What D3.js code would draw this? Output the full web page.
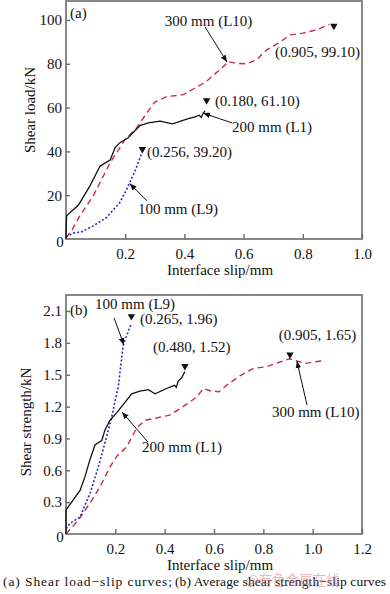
<!DOCTYPE html>
<html><head><meta charset="utf-8">
<script src="https://cdn.jsdelivr.net/npm/d3@7"></script>
<style>
html,body{margin:0;padding:0;background:#fff;}
svg{display:block;font-family:"Times New Roman","Liberation Serif",Tinos,Times,serif;}
</style></head>
<body><svg id="c" width="390" height="594"></svg>
<script>
// ---------- DATA ----------
// Panel (a): shear load (kN) vs interface slip (mm)
const aL1x = [0,0.002,0.042,0.08,0.115,0.149,0.166,0.182,0.21,0.25,0.278,0.318,0.36,0.413,0.436,0.45,0.457,0.464,0.47];
const aL1y = [0,10.6,15.5,24,33.3,36,41.7,44,46.2,51.8,53,53.8,52.6,55,55.8,56.5,55.5,57.6,58.5];
const aL10x = [0,0.02,0.047,0.092,0.149,0.2,0.239,0.273,0.3,0.34,0.396,0.43,0.47,0.5,0.53,0.548,0.575,0.61,0.644,0.678,0.717,0.757,0.8,0.847,0.89];
const aL10y = [0.5,4,10.6,19.7,34.8,45.5,50.8,57.6,62.5,65,65.9,68.5,71.5,75,78.5,81,80.2,80,81.8,86.4,89.4,93.2,94,95.5,98];
const aL9x = [0,0.025,0.053,0.092,0.137,0.182,0.205,0.233,0.256];
const aL9y = [1,2.7,3.3,6,9.8,16.7,22.7,31,39.2];
const aMarkX = [0.258,0.475,0.905];
const aMarkY = [41,63.3,97.3];
const aTicksX = [0.2,0.4,0.6,0.8,1.0];
const aTicksY = [20,40,60,80,100];

// Panel (b): average shear strength vs interface slip (mm)
const bL1x = [0,0,0.023,0.057,0.077,0.097,0.118,0.145,0.158,0.178,0.205,0.239,0.266,0.3,0.334,0.361,0.408,0.44,0.447,0.455,0.469,0.482];
const bL1y = [0,0.226,0.30,0.41,0.54,0.70,0.84,0.88,0.98,1.07,1.14,1.24,1.32,1.345,1.36,1.32,1.37,1.40,1.38,1.44,1.47,1.53];
const bL10x = [0,0.05,0.097,0.138,0.178,0.205,0.246,0.287,0.32,0.381,0.42,0.462,0.503,0.53,0.557,0.59,0.62,0.651,0.705,0.76,0.813,0.868,0.905,0.935,0.969,1.003,1.04];
const bL10y = [0,0.13,0.29,0.445,0.63,0.73,0.82,1.0,1.07,1.10,1.12,1.18,1.245,1.29,1.37,1.345,1.34,1.40,1.49,1.56,1.575,1.62,1.65,1.63,1.606,1.62,1.63];
const bL9x = [0,0.016,0.057,0.097,0.131,0.165,0.185,0.212,0.232,0.264];
const bL9y = [0.05,0.10,0.16,0.38,0.63,0.92,1.10,1.39,1.78,1.98];
const bMarkX = [0.265,0.482,0.908];
const bMarkY = [2.05,1.58,1.69];
const bTicksX = [0.2,0.4,0.6,0.8,1.0,1.2];
const bTicksY = [0.3,0.6,0.9,1.2,1.5,1.8,2.1];

const aLabels = ["(0.256, 39.20)","(0.180, 61.10)","(0.905, 99.10)","100 mm (L9)","200 mm (L1)","300 mm (L10)"];
const bLabels = ["(0.265, 1.96)","(0.480, 1.52)","(0.905, 1.65)","100 mm (L9)","200 mm (L1)","300 mm (L10)"];

// ---------- DRAW ----------
const svg = d3.select("#c");
const FS = 15;
const SERIF = '"Times New Roman","Liberation Serif",Tinos,Times,serif';
const frameColor = "#6b6b6b";
const cL1 = "#111", cL10 = "#cc2a45", cL9 = "#2a2ac8";

svg.append("defs").append("marker")
  .attr("id","ah").attr("viewBox","0 0 10 10").attr("refX",10).attr("refY",5)
  .attr("markerWidth",7).attr("markerHeight",7).attr("orient","auto-start-reverse")
  .attr("markerUnits","userSpaceOnUse")
  .append("path").attr("d","M0,1 L10,5 L0,9 Z").attr("fill","#111");

function panel(cfg){
  const g = svg.append("g");
  const x = d3.scaleLinear().domain(cfg.xd).range([66,362]);
  const y = d3.scaleLinear().domain(cfg.yd).range(cfg.yr);
  g.append("rect").attr("x",66).attr("y",cfg.top).attr("width",296).attr("height",cfg.bottom-cfg.top)
    .attr("fill","none").attr("stroke",frameColor).attr("stroke-width",1.6);
  const xa = d3.axisBottom(x).tickValues(cfg.tx).tickSize(-5).tickPadding(6).tickFormat(d3.format(".1f"));
  const xg = g.append("g").attr("transform",`translate(0,${cfg.bottom})`).call(xa);
  const ya = d3.axisLeft(y).tickValues(cfg.ty).tickSize(-4).tickPadding(4).tickFormat(cfg.yf);
  const yg = g.append("g").attr("transform","translate(66,0)").call(ya);
  [xg,yg].forEach(s=>{
    s.attr("font-family",SERIF).attr("font-size",FS);
    s.select(".domain").remove();
    s.selectAll(".tick line").attr("stroke",frameColor).attr("stroke-width",1.4);
    s.selectAll(".tick text").attr("fill","#111");
  });
  xg.selectAll(".tick text").attr("dy","0.9em");
  g.append("text").attr("x",60).attr("y",cfg.bottom+3).attr("dy","0.35em").attr("text-anchor","middle")
    .attr("font-size",FS).attr("fill","#111").text("0");
  g.append("text").attr("x",220).attr("y",cfg.bottom+31).attr("dy","0.35em").attr("text-anchor","middle")
    .attr("font-size",FS).attr("fill","#111").text("Interface slip/mm");
  g.append("text").attr("transform",`translate(${cfg.ytx},${cfg.yty}) rotate(-90)`).attr("dy","0.35em")
    .attr("text-anchor","middle").attr("font-size",FS).attr("fill","#111").text(cfg.ytitle);
  g.append("text").attr("x",70).attr("y",cfg.tagY).attr("dy","0.35em").attr("font-size",FS).attr("fill","#111").text(cfg.tag);

  const line = d3.line().x(d=>x(d[0])).y(d=>y(d[1]));
  const series = [
    {xs:cfg.L10x, ys:cfg.L10y, c:cL10, dash:"6,4", w:1.4},
    {xs:cfg.L9x, ys:cfg.L9y, c:cL9, dash:"2,2", w:1.6},
    {xs:cfg.L1x, ys:cfg.L1y, c:cL1, dash:null, w:1.3}
  ];
  series.forEach(s=>{
    g.append("path").datum(d3.zip(s.xs,s.ys)).attr("d",line).attr("fill","none")
      .attr("stroke",s.c).attr("stroke-width",s.w).attr("stroke-dasharray",s.dash);
  });
  const tri = d3.symbol().type(d3.symbolTriangle).size(24);
  d3.zip(cfg.mx,cfg.my).forEach(p=>{
    g.append("path").attr("d",tri()).attr("fill","#111")
      .attr("transform",`translate(${x(p[0])},${y(p[1])}) rotate(180)`);
  });
  cfg.arrows.forEach(a=>{
    g.append("line").attr("x1",x(a[0])).attr("y1",y(a[1])).attr("x2",x(a[2])).attr("y2",y(a[3]))
      .attr("stroke","#111").attr("stroke-width",1).attr("marker-end","url(#ah)");
  });
  cfg.labels.forEach((t,i)=>{
    const p = cfg.lpos[i];
    g.append("text").attr("x",x(p[0])).attr("y",y(p[1])).attr("dy","0.35em")
      .attr("font-size",FS).attr("fill","#111").text(t);
  });
}

panel({
  xd:[0,1], yd:[0,100], yr:[239,20], top:1, bottom:239,
  tx:aTicksX, ty:aTicksY, yf:d3.format("d"),
  ytitle:"Shear load/kN", ytx:30, yty:110, tag:"(a)", tagY:13,
  L1x:aL1x, L1y:aL1y, L10x:aL10x, L10y:aL10y, L9x:aL9x, L9y:aL9y,
  mx:aMarkX, my:aMarkY,
  arrows:[[0.47,96.8,0.544,80.8],[0.561,53,0.463,57.5],[0.274,17.4,0.215,25.3]],
  labels:aLabels,
  lpos:[[0.274,39.7],[0.503,63],[0.706,85.4],[0.243,13.7],[0.561,51.1],[0.334,99.5]]
});

panel({
  xd:[0,1.2], yd:[0,2.1], yr:[534,311], top:295, bottom:534,
  tx:bTicksX, ty:bTicksY, yf:d3.format(".1f"),
  ytitle:"Shear strength/kN", ytx:26, yty:422, tag:"(b)", tagY:310,
  L1x:bL1x, L1y:bL1y, L10x:bL10x, L10y:bL10y, L9x:bL9x, L9y:bL9y,
  mx:bMarkX, my:bMarkY,
  arrows:[[0.195,2.034,0.235,1.78],[0.977,1.215,0.936,1.629],[0.332,0.866,0.227,1.149]],
  labels:bLabels,
  lpos:[[0.3,2.024],[0.353,1.761],[0.863,1.874],[0.118,2.166],[0.308,0.819],[0.835,1.149]]
});

// caption (two parts, first part widely spaced as in the original)
svg.append("text").attr("x",3).attr("y",581).attr("dy","0.35em").attr("font-size",13.5).attr("fill","#111")
  .attr("textLength",169).attr("lengthAdjust","spacing")
  .text("(a)  Shear  load\u2212slip  curves;");
svg.append("text").attr("x",175).attr("y",581).attr("dy","0.35em").attr("font-size",13.5).attr("fill","#111")
  .attr("textLength",211).attr("lengthAdjust","spacing")
  .text("(b) Average shear strength\u2212slip curves");
// watermark
svg.append("text").attr("x",246).attr("y",580).attr("dy","0.35em").attr("font-size",13.5)
  .attr("font-family","Noto Sans CJK SC").attr("fill","#e07a86").attr("opacity",0.55)
  .text("@有色金属在线");
</script></body></html>
